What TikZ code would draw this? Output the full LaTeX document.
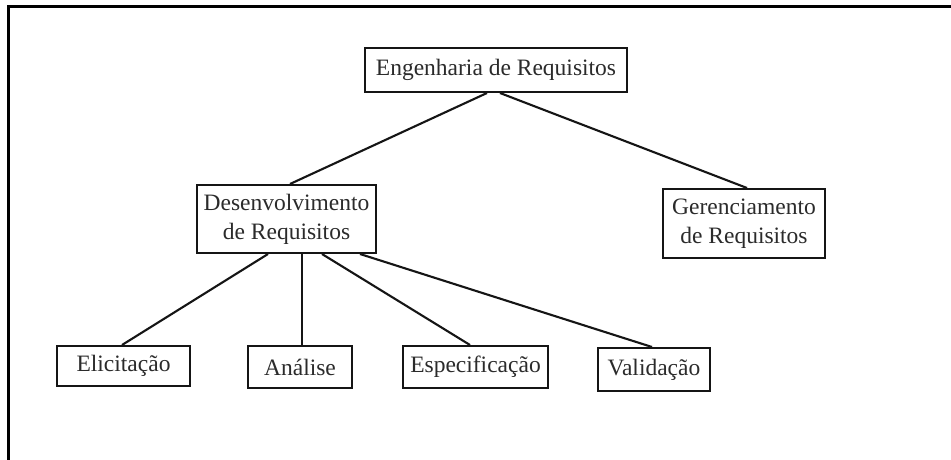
\documentclass[tikz,border=0pt]{standalone}
\usepackage{fontspec}
\setmainfont{Liberation Serif}
\usetikzlibrary{calc}
\definecolor{txt}{HTML}{2B2B2B}
\definecolor{ln}{HTML}{151515}
\tikzset{
  box/.style={draw=ln, line width=2pt, fill=white, inner sep=0pt, align=center,
    text=txt, font=\fontsize{23.5}{29}\selectfont},
  conn/.style={draw=ln, line width=2.1pt},
  frame/.style={draw=black, line width=3pt}
}
\begin{document}
\begin{tikzpicture}[x=1pt,y=-1pt]
\useasboundingbox (0,0) rectangle (951,460);
\fill[white] (0,0) rectangle (951,460);
\coordinate (f1) at (8,460);
\coordinate (f2) at (8,7);
\coordinate (f3) at (951,7);
\draw[frame] (f1) -- (f2) -- (f3);

\node[box, minimum width=262pt, minimum height=44pt] (eng) at (496,70) {Engenharia de Requisitos};
\node[box, minimum width=179pt, minimum height=68pt] (des) at (286.5,219) {Desenvolvimento\\de Requisitos};
\node[box, minimum width=162pt, minimum height=69pt] (ger) at (744,223.5) {Gerenciamento\\de Requisitos};
\node[box, minimum width=133pt, minimum height=40pt] (eli) at (123.5,366) {Elicitação};
\node[box, minimum width=104pt, minimum height=42pt] (ana) at (300,367) {Análise};
\node[box, minimum width=145pt, minimum height=42pt] (esp) at (475.5,367) {Especificação};
\node[box, minimum width=112pt, minimum height=43pt] (val) at (654,369.5) {Validação};

\draw[conn] ([xshift=-9pt]eng.south) -- ([xshift=3.5pt]des.north);
\draw[conn] ([xshift=4pt]eng.south) -- ([xshift=3pt]ger.north);
\draw[conn] ([xshift=-18.5pt]des.south) -- ([xshift=-1.5pt]eli.north);
\draw[conn] ([xshift=15.5pt]des.south) -- ([xshift=2pt]ana.north);
\draw[conn] ([xshift=35.5pt]des.south) -- ([xshift=-5.5pt]esp.north);
\draw[conn] ([xshift=73.5pt]des.south) -- ([xshift=-2pt]val.north);
\end{tikzpicture}
\end{document}
